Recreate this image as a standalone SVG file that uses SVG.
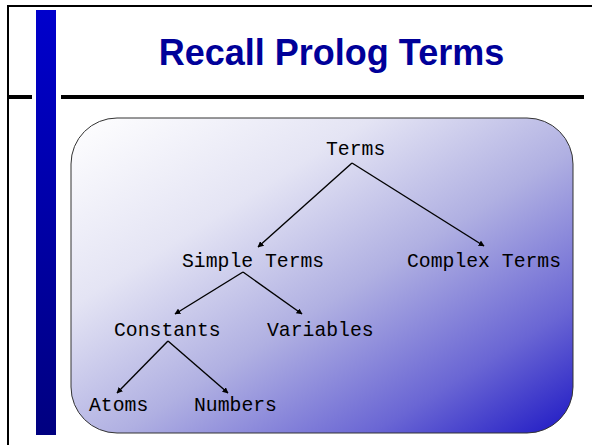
<svg xmlns="http://www.w3.org/2000/svg" width="592" height="445" viewBox="0 0 592 445">
  <defs>
    <linearGradient id="barGrad" x1="0" y1="0" x2="0" y2="1">
      <stop offset="0" stop-color="#0000cc"/>
      <stop offset="1" stop-color="#000080"/>
    </linearGradient>
    <linearGradient id="boxGrad" x1="0" y1="0" x2="1" y2="1">
      <stop offset="0" stop-color="#ffffff"/>
      <stop offset="0.3" stop-color="#e4e4f4"/>
      <stop offset="0.55" stop-color="#b0b0e2"/>
      <stop offset="0.8" stop-color="#6a66d4"/>
      <stop offset="1" stop-color="#1e18c4"/>
    </linearGradient>
    <marker id="arrow" viewBox="0 0 10 10" refX="9" refY="5" markerWidth="6" markerHeight="6" orient="auto" markerUnits="userSpaceOnUse">
      <path d="M0,0 L10,5 L0,10 z" fill="#000"/>
    </marker>
    <style>
      .node text { font-family: "Liberation Mono", "DejaVu Sans Mono", monospace; font-size: 19.75px; fill: #000; }
      .conn line { stroke: #000; stroke-width: 1.4; marker-end: url(#arrow); }
      .title { font-family: "Liberation Sans", Arial, sans-serif; font-weight: bold; font-size: 36px; fill: #000099; }
    </style>
  </defs>

  <g id="frame">
    <rect x="0" y="0" width="592" height="445" fill="#ffffff"/>
    <line x1="7" y1="6" x2="592" y2="6" stroke="#000" stroke-width="2"/>
    <line x1="8" y1="6" x2="8" y2="445" stroke="#000" stroke-width="2"/>
    <rect x="7" y="95" width="25" height="4" fill="#000"/>
    <rect x="61" y="95" width="523" height="4" fill="#000"/>
    <rect x="36" y="10" width="20" height="425" fill="url(#barGrad)"/>
  </g>

  <text class="title" x="331.5" y="65" text-anchor="middle">Recall Prolog Terms</text>

  <rect id="panel" x="71" y="118" width="502" height="315" rx="46" ry="46" fill="url(#boxGrad)" stroke="#333" stroke-width="1"/>

  <g class="conn" id="connectors">
    <line x1="352" y1="163" x2="258" y2="247"/>
    <line x1="352" y1="163" x2="484" y2="246"/>
    <line x1="243" y1="272" x2="175" y2="314"/>
    <line x1="243" y1="272" x2="302" y2="314"/>
    <line x1="168" y1="341" x2="117" y2="393"/>
    <line x1="168" y1="341" x2="228" y2="393"/>
  </g>

  <g class="node" id="terms"><text x="326" y="155">Terms</text></g>
  <g class="node" id="simple"><text x="182" y="267">Simple Terms</text></g>
  <g class="node" id="complex"><text x="407" y="267">Complex Terms</text></g>
  <g class="node" id="constants"><text x="114" y="336">Constants</text></g>
  <g class="node" id="variables"><text x="267" y="336">Variables</text></g>
  <g class="node" id="atoms"><text x="89" y="411">Atoms</text></g>
  <g class="node" id="numbers"><text x="194" y="411">Numbers</text></g>
</svg>
